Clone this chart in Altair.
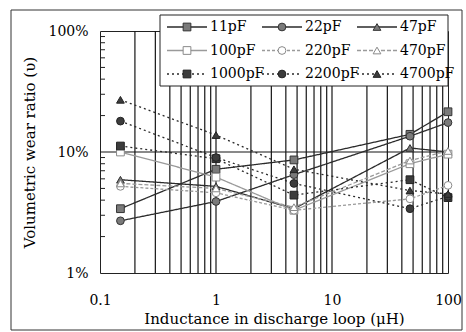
import altair as alt
import pandas as pd

# ---- data ----
inductance = [0.15, 1, 4.7, 47, 100]  # µH
series_names = ["11pF", "22pF", "47pF", "100pF", "220pF", "470pF", "1000pF", "2200pF", "4700pF"]
v_11 = [3.4, 7.2, 8.6, 14.0, 21.5]
v_22 = [2.7, 3.9, 6.5, 13.5, 17.5]
v_47 = [5.9, 5.2, 3.4, 10.8, 10.0]
v_100 = [10.0, 6.2, 3.3, 8.0, 9.6]
v_220 = [5.2, 4.6, 3.3, 4.1, 5.3]
v_470 = [5.5, 5.0, 3.5, 8.5, 10.2]
v_1000 = [11.2, 8.8, 4.4, 5.9, 4.2]
v_2200 = [18.0, 9.0, 5.5, 3.4, 4.3]
v_4700 = [27.0, 13.8, 7.2, 4.8, 4.5]
all_values = [v_11, v_22, v_47, v_100, v_220, v_470, v_1000, v_2200, v_4700]

x_grid = [0.2, 0.3, 0.4, 0.5, 0.6, 0.7, 0.8, 0.9, 1, 2, 3, 4, 5, 6, 7, 8, 9, 10,
          20, 30, 40, 50, 60, 70, 80, 90]
y_minor = [2, 3, 4, 5, 6, 7, 8, 9, 20, 30, 40, 50, 60, 70, 80, 90]
x_labels = [0.1, 1, 10, 100]
y_labels = [1, 10, 100]

# ---- styles ----
line_colors = ["#2b2b2b", "#2b2b2b", "#2b2b2b", "#9a9a9a", "#9a9a9a", "#9a9a9a",
               "#2b2b2b", "#2b2b2b", "#2b2b2b"]
line_dash = [[1, 0], [1, 0], [1, 0], [1, 0], [3, 2], [4, 2], [2, 3], [2, 3], [2, 3]]
shapes = ["square", "circle", "triangle-up"] * 3
fills = ["#7a7a7a"] * 3 + ["white"] * 3 + ["#3c3c3c"] * 3
strokes = ["#333333"] * 3 + ["#8a8a8a"] * 3 + ["#222222"] * 3

FONT = "DejaVu Serif"
W, H = 348, 242

rows = []
for name, vals in zip(series_names, all_values):
    for xv, yv in zip(inductance, vals):
        rows.append({"series": name, "L": xv, "ratio": yv})
df = pd.DataFrame(rows)

leg = pd.DataFrame({"series": series_names,
                    "idx": list(range(len(series_names)))})

xscale = alt.Scale(type="log", domain=[0.1, 100])
yscale = alt.Scale(type="log", domain=[1, 100])

color_enc = alt.Color("series:N", scale=alt.Scale(domain=series_names, range=line_colors), legend=None)
dash_enc = alt.StrokeDash("series:N", scale=alt.Scale(domain=series_names, range=line_dash), legend=None)
shape_enc = alt.Shape("series:N", scale=alt.Scale(domain=series_names, range=shapes), legend=None)
fill_enc = alt.Fill("series:N", scale=alt.Scale(domain=series_names, range=fills), legend=None)
stroke_enc = alt.Stroke("series:N", scale=alt.Scale(domain=series_names, range=strokes), legend=None)

grid = alt.Chart(pd.DataFrame({"g": x_grid})).mark_rule(color="#151515", strokeWidth=1.2).encode(
    x=alt.X("g:Q", scale=xscale,
            axis=alt.Axis(values=x_labels, labelExpr="datum.value < 1 ? '0.1' : format(datum.value, 'd')",
                          title="Inductance in discharge loop (\u03bcH)", grid=False, ticks=False,
                          domain=False, labelPadding=20, labelFont=FONT, labelFontSize=14,
                          labelFlush=False, labelOverlap=False,
                          labelColor="black", titleFont=FONT, titleFontSize=15,
                          titleFontWeight="normal", titleColor="black", titlePadding=4))
)

hline = alt.Chart(pd.DataFrame({"h": [10]})).mark_rule(color="#151515", strokeWidth=1.2).encode(
    y=alt.Y("h:Q", scale=yscale,
            axis=alt.Axis(values=y_labels, labelExpr="datum.value + '%'",
                          title="Volumetric wear ratio (\u03c5)", grid=False, ticks=False,
                          domain=False, labelPadding=12, labelFont=FONT, labelFontSize=14,
                          labelFlush=False, labelOverlap=False,
                          labelColor="black", titleFont=FONT, titleFontSize=15,
                          titleFontWeight="normal", titleColor="black", titlePadding=10))
)

yticks = alt.Chart(pd.DataFrame({"t": y_minor})).mark_rule(color="#222222", strokeWidth=1).encode(
    y=alt.Y("t:Q", scale=yscale), x=alt.value(0), x2=alt.value(5)
)

lines = alt.Chart(df).mark_line(strokeWidth=1.3).encode(
    x=alt.X("L:Q", scale=xscale), y=alt.Y("ratio:Q", scale=yscale),
    color=color_enc, strokeDash=dash_enc, detail="series:N"
)

points = alt.Chart(df).mark_point(filled=True, size=60, strokeWidth=1, opacity=1).encode(
    x=alt.X("L:Q", scale=xscale), y=alt.Y("ratio:Q", scale=yscale),
    shape=shape_enc, fill=fill_enc, stroke=stroke_enc
)

# legend (drawn as marks, inside the plot's upper right)
leg_base = alt.Chart(leg).transform_calculate(
    col="datum.idx % 3", row="floor(datum.idx / 3)"
).transform_calculate(
    x1="67 + datum.col * 95", x2="107 + datum.col * 95", xm="87 + datum.col * 95",
    xt="110 + datum.col * 95", ly="-4 + datum.row * 23.5"
)

leg_box = alt.Chart(pd.DataFrame({"b": [0]})).mark_rect(
    fill="white", stroke="#222222", strokeWidth=1
).encode(x=alt.value(60), x2=alt.value(348), y=alt.value(-16), y2=alt.value(55))

leg_lines = leg_base.mark_rule(strokeWidth=1.3).encode(
    x=alt.X("x1:Q", scale=None), x2="x2:Q", y=alt.Y("ly:Q", scale=None),
    color=color_enc, strokeDash=dash_enc
)
leg_pts = leg_base.mark_point(filled=True, size=60, strokeWidth=1, opacity=1).encode(
    x=alt.X("xm:Q", scale=None), y=alt.Y("ly:Q", scale=None),
    shape=shape_enc, fill=fill_enc, stroke=stroke_enc
)
leg_text = leg_base.mark_text(align="left", baseline="middle", font=FONT, fontSize=14, color="black").encode(
    x=alt.X("xt:Q", scale=None), y=alt.Y("ly:Q", scale=None), text="series:N"
)

border = alt.Chart(pd.DataFrame({"b": [0]})).mark_rect(
    fill="white", fillOpacity=0, stroke="#333333", strokeWidth=1
).encode(x=alt.value(-89), x2=alt.value(362), y=alt.value(-21), y2=alt.value(299))

chart = alt.layer(
    grid, hline, yticks, lines, points, leg_box, leg_lines, leg_pts, leg_text, border
).properties(
    width=W, height=H,
    autosize=alt.AutoSizeParams(type="none"),
    padding={"left": 100, "top": 31, "right": 18, "bottom": 59},
    background="white"
).configure_view(stroke="#222222", strokeWidth=1)

chart.save("out.html", embed_options={"renderer": "svg", "actions": False})
